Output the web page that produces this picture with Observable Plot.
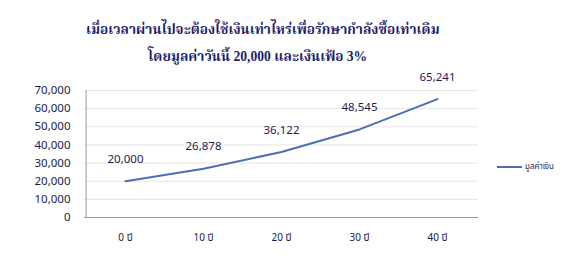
<!DOCTYPE html>
<html><head><meta charset="utf-8">
<script src="https://cdn.jsdelivr.net/npm/d3@7"></script>
<script src="https://cdn.jsdelivr.net/npm/@observablehq/plot@0.6"></script>
<style>
body{margin:0;background:#fff;}
#wrap{position:relative;width:587px;height:261px;overflow:hidden;font-family:Tahoma,"Noto Sans Thai","Noto Sans",sans-serif;}
.t{position:absolute;color:#1c1c6b;font-weight:bold;font-family:"Liberation Serif","Noto Serif Thai",serif;font-size:13.6px;white-space:nowrap;}
#leg{position:absolute;left:497px;top:161px;font-size:8px;color:#1c1c4c;display:flex;align-items:center;}
#leg span.l{display:inline-block;width:25px;height:2px;background:#4a6fb4;margin-right:3px;}
</style></head>
<body><div id="wrap">
<div class="t" id="t1" style="left:86px;top:20px;">เมื่อเวลาผ่านไปจะต้องใช้เงินเท่าไหร่เพื่อรักษากำลังซื้อเท่าเดิม</div>
<div class="t" id="t2" style="left:148px;top:47px;">โดยมูลค่าวันนี้ 20,000 และเงินเฟ้อ 3%</div>
<div id="leg"><span class="l"></span>มูลค่าเงิน</div>
</div>
<script>
const years = ["0 ปี","10 ปี","20 ปี","30 ปี","40 ปี"];
const values = [20000, 26878, 36122, 48545, 65241];
const yTicks = [0,10000,20000,30000,40000,50000,60000,70000];
const data = years.map((y,i)=>({year:y, value:values[i]}));
const chart = Plot.plot({
  width:587, height:261,
  marginTop:90, marginLeft:84, marginRight:109, marginBottom:44,
  style:{fontFamily:'Tahoma,"Noto Sans Thai","Noto Sans",sans-serif', color:"#1c1c4c", background:"transparent"},
  x:{type:"point", domain:years, padding:0.5, label:null},
  y:{domain:[0,70000], label:null},
  marks:[
    Plot.gridY(yTicks,{stroke:"#e6e6e6", strokeOpacity:1}),
    Plot.ruleX([years[0]],{dx:-39.4, y1:0, y2:70000, stroke:"#999"}),
    Plot.ruleY([0],{stroke:"#999"}),
    Plot.axisY(yTicks,{tickFormat:d=>d3.format(",")(d), tickSize:0, tickPadding:14, fontSize:11.5, fill:"#1c1c4c"}),
    Plot.axisX(years,{tickSize:0, tickPadding:16, fontSize:10, fill:"#1c1c4c"}),
    Plot.line(data,{x:"year", y:"value", stroke:"#4a6fb4", strokeWidth:2}),
    Plot.text(data,{x:"year", y:"value", text:d=>d3.format(",")(d.value), dy:-22, fontSize:11.5, fill:"#1c1c4c"})
  ]
});
chart.style.position="absolute"; chart.style.left="0"; chart.style.top="0";
document.getElementById("wrap").prepend(chart);
</script>
</body></html>
